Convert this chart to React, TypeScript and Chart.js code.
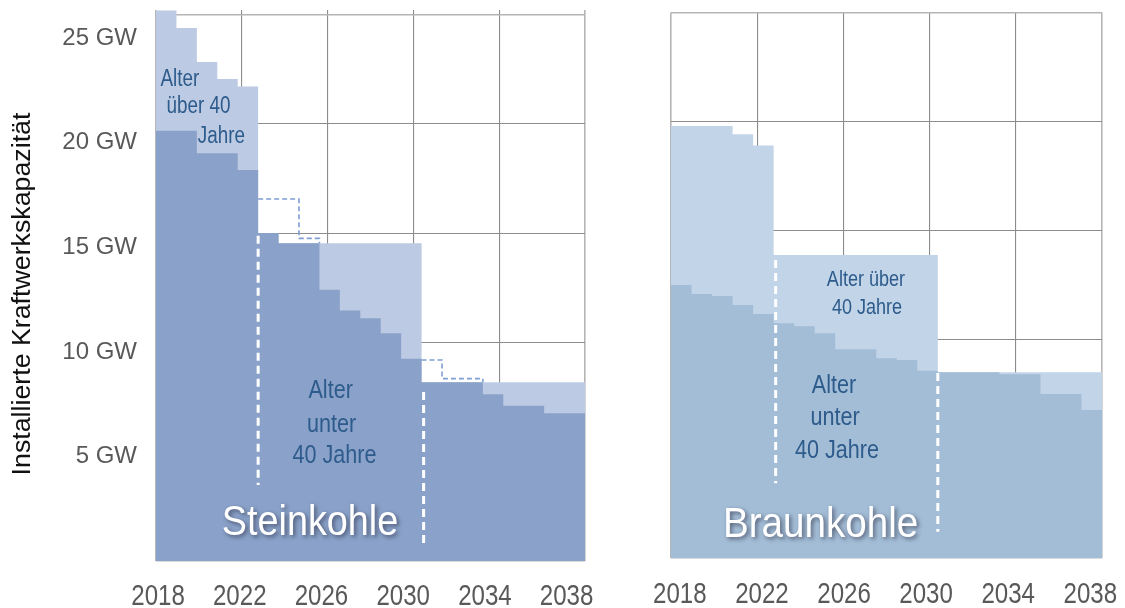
import React, { useEffect, useRef } from 'react';
import { Chart, registerables } from 'chart.js';

Chart.register(...registerables);

// ---------------- data ----------------
const years = [2018, 2019, 2020, 2021, 2022, 2023, 2024, 2025, 2026, 2027, 2028, 2029, 2030, 2031, 2032, 2033, 2034, 2035, 2036, 2037, 2038];
const xTickYears = [2018, 2022, 2026, 2030, 2034, 2038];
const xTickLabels = ['2018', '2022', '2026', '2030', '2034', '2038'];
const yTickValues = [5, 10, 15, 20, 25];
const yTickLabels = ['5 GW', '10 GW', '15 GW', '20 GW', '25 GW'];
const yTitle = 'Installierte Kraftwerkskapazität';

// Steinkohle (GW)
const steinGesamt = [26.33, 25.49, 23.86, 23.05, 22.69, 15.68, 15.2, 15.2, 15.2, 15.2, 15.2, 15.2, 15.2, 8.55, 8.55, 8.55, 8.55, 8.55, 8.55, 8.55, 8.55];
const steinUnter40 = [20.58, 20.58, 19.5, 19.5, 18.7, 15.68, 15.2, 15.2, 12.97, 11.98, 11.61, 10.89, 9.67, 8.55, 8.55, 8.55, 7.98, 7.43, 7.43, 7.07, 7.07];
const steinVorher = [null, null, null, null, null, 17.31, 17.31, 15.43, 15.2, null, null, null, null, 9.61, 8.72, 8.72, 8.55, null, null, null, null];
// phase boundaries [year, from GW, to GW]
const steinGrenzen = [[2023, 15.55, 3.64], [2031.1, 8.08, 0.77]];

// Braunkohle (GW)
const braunGesamt = [20.7, 20.7, 20.7, 20.3, 19.76, 14.52, 14.52, 14.52, 14.52, 14.52, 14.52, 14.52, 14.52, 8.9, 8.9, 8.9, 8.9, 8.9, 8.9, 8.9, 8.9];
const braunUnter40 = [13.08, 12.65, 12.55, 12.12, 11.69, 11.25, 11.1, 10.77, 10.0, 10.0, 9.57, 9.49, 8.97, 8.9, 8.9, 8.9, 8.8, 8.8, 7.86, 7.86, 7.09];
const braunGrenzen = [[2023.1, 14.28, 3.58], [2031.0, 8.86, 1.26]];

// ---------------- helpers ----------------
function stepPoints(values: (number | null)[]) {
  const pts: { x: number; y: number | null }[] = values.map((v, i) => ({ x: years[i], y: v }));
  pts.push({ x: years[years.length - 1] + 1, y: values[values.length - 1] });
  return pts;
}

const TEXT_BLUE = '#2d5b8b';
const FONT = "'Liberation Sans', Arial, sans-serif";

type TextItem = { t: string; x: number; y: number; size: number; sx: number; color: string; shadow?: boolean };

type Panel = {
  total: (number | null)[];
  under: (number | null)[];
  prior?: (number | null)[];
  bounds: number[][];
  dark: string;
  light: string;
  texts: TextItem[];
  showY: boolean;
  padding: { left: number; right: number; top: number; bottom: number };
  xAxisHeight: number;
  xLabelBaseline: number;
  yMax: number;
  gridMax: number;
  labelOffset: number;
  title: boolean;
};

const gridColor = (ctx: any, n: number) => (ctx.index === 0 || ctx.index === n - 1 ? '#b5b5b5' : '#8c8c8c');
const gridWidth = (ctx: any, n: number) => (ctx.index === 0 || ctx.index === n - 1 ? 1.6 : 1.1);

function buildConfig(p: Panel): any {
  const datasets: any[] = [];
  if (p.prior) {
    datasets.push({
      data: stepPoints(p.prior),
      stepped: 'before',
      borderColor: '#7f9ed1',
      borderWidth: 1.6,
      borderDash: [5, 3],
      fill: false,
      pointRadius: 0,
      spanGaps: false,
      order: 2,
    });
  }
  p.bounds.forEach(([x, y0, y1]) => {
    datasets.push({
      data: [{ x, y: y0 }, { x, y: y1 }],
      borderColor: '#ffffff',
      borderWidth: 3,
      borderDash: [8, 5],
      fill: false,
      pointRadius: 0,
      order: 1,
    });
  });
  datasets.push({
    data: stepPoints(p.under),
    stepped: 'before',
    borderWidth: 0,
    borderColor: p.dark,
    backgroundColor: p.dark,
    fill: 'origin',
    pointRadius: 0,
    order: 3,
  });
  datasets.push({
    data: stepPoints(p.total),
    stepped: 'before',
    borderWidth: 0,
    borderColor: p.light,
    backgroundColor: p.light,
    fill: 'origin',
    pointRadius: 0,
    order: 4,
  });

  const textPlugin = {
    id: 'panelText',
    afterDatasetsDraw(chart: any) {
      const { ctx, scales } = chart;
      for (const a of p.texts) {
        const px = scales.x.getPixelForValue(a.x);
        const py = scales.y.getPixelForValue(a.y);
        ctx.save();
        ctx.font = `${a.size}px ${FONT}`;
        ctx.fillStyle = a.color;
        if (a.shadow) {
          ctx.shadowColor = 'rgba(30,30,50,0.6)';
          ctx.shadowBlur = 4;
          ctx.shadowOffsetX = 2;
          ctx.shadowOffsetY = 2;
        }
        ctx.translate(px, py);
        ctx.scale(a.sx, 1);
        ctx.textAlign = 'center';
        ctx.textBaseline = 'alphabetic';
        ctx.fillText(a.t, 0, 0);
        ctx.restore();
      }
      // x tick labels (condensed type, as in the original)
      const xs = scales.x;
      xs.ticks.forEach((tk: any, i: number) => {
        const px = xs.getPixelForValue(tk.value);
        ctx.save();
        ctx.font = `29px ${FONT}`;
        ctx.fillStyle = '#595959';
        ctx.translate(px, p.xLabelBaseline);
        ctx.scale(0.83, 1);
        ctx.textAlign = 'center';
        ctx.textBaseline = 'alphabetic';
        ctx.fillText(xTickLabels[i], 0, 0);
        ctx.restore();
      });
      if (p.title) {
        ctx.save();
        ctx.font = `25px ${FONT}`;
        ctx.fillStyle = '#111111';
        ctx.translate(30, 294);
        ctx.rotate(-Math.PI / 2);
        ctx.scale(1.07, 1);
        ctx.textAlign = 'center';
        ctx.textBaseline = 'alphabetic';
        ctx.fillText(yTitle, 0, 0);
        ctx.restore();
      }
    },
  };

  return {
    type: 'line',
    data: { datasets },
    plugins: [textPlugin],
    options: {
      animation: false,
      responsive: false,
      devicePixelRatio: 1,
      layout: { padding: p.padding },
      elements: { line: { tension: 0 }, point: { radius: 0 } },
      plugins: { legend: { display: false }, tooltip: { enabled: false } },
      scales: {
        x: {
          type: 'linear',
          position: 'bottom',
          min: years[0],
          max: years[years.length - 1] + 1,
          grid: { display: false, drawTicks: false },
          border: { display: false },
          afterBuildTicks: (s: any) => {
            s.ticks = xTickYears.map((v) => ({ value: v + p.labelOffset }));
          },
          afterFit: (s: any) => {
            s.height = p.xAxisHeight;
            s.paddingLeft = 0;
            s.paddingRight = 0;
          },
          ticks: { display: false, autoSkip: false, maxRotation: 0 },
        },
        xg: {
          type: 'linear',
          position: 'bottom',
          min: 0,
          max: 5,
          afterBuildTicks: (s: any) => {
            s.ticks = [0, 1, 2, 3, 4, 5].map((v) => ({ value: v }));
          },
          afterFit: (s: any) => {
            s.height = 0;
            s.paddingLeft = 0;
            s.paddingRight = 0;
          },
          ticks: { display: false },
          grid: {
            drawTicks: false,
            color: (c: any) => gridColor(c, 6),
            lineWidth: (c: any) => gridWidth(c, 6),
          },
          border: { display: false },
        },
        y: {
          type: 'linear',
          position: 'left',
          display: p.showY,
          min: 0,
          max: p.yMax,
          afterBuildTicks: (s: any) => {
            s.ticks = yTickValues.map((v) => ({ value: v }));
          },
          afterFit: (s: any) => {
            s.width = p.showY ? 156 : 0;
            s.paddingTop = 0;
            s.paddingBottom = 0;
          },
          grid: { display: false, drawTicks: false },
          border: { display: false },
          ticks: {
            padding: 19,
            color: '#595959',
            font: { family: FONT, size: 24 },
            callback: (_v: any, i: number) => yTickLabels[i],
          },
        },
        yg: {
          type: 'linear',
          position: 'right',
          min: 0,
          max: p.gridMax,
          afterBuildTicks: (s: any) => {
            s.ticks = [0, 5, 10, 15, 20, 25].map((v) => ({ value: v }));
          },
          afterFit: (s: any) => {
            s.width = 0;
            s.paddingTop = 0;
            s.paddingBottom = 0;
          },
          ticks: { display: false },
          grid: {
            drawTicks: false,
            color: (c: any) => gridColor(c, 6),
            lineWidth: (c: any) => gridWidth(c, 6),
          },
          border: { display: false },
        },
      },
    },
  };
}

const leftPanel: Panel = {
  total: steinGesamt,
  under: steinUnter40,
  prior: steinVorher,
  bounds: steinGrenzen,
  dark: '#8aa2c9',
  light: '#bccae3',
  showY: true,
  padding: { left: 0, right: 15, top: 10, bottom: 0 },
  xAxisHeight: 47,
  xLabelBaseline: 605,
  yMax: 26.35,
  gridMax: 25.21,
  labelOffset: 0.1,
  title: true,
  texts: [
    { t: 'Alter', x: 2019.17, y: 22.72, size: 23, sx: 0.82, color: TEXT_BLUE },
    { t: 'über 40', x: 2020.08, y: 21.41, size: 23, sx: 0.82, color: TEXT_BLUE },
    { t: 'Jahre', x: 2021.2, y: 20.0, size: 23, sx: 0.82, color: TEXT_BLUE },
    { t: 'Alter', x: 2026.55, y: 7.78, size: 26, sx: 0.83, color: TEXT_BLUE },
    { t: 'unter', x: 2026.6, y: 6.18, size: 26, sx: 0.83, color: TEXT_BLUE },
    { t: '40 Jahre', x: 2026.74, y: 4.67, size: 26, sx: 0.83, color: TEXT_BLUE },
    { t: 'Steinkohle', x: 2025.54, y: 1.24, size: 42, sx: 0.9, color: '#ffffff', shadow: true },
  ],
};

const rightPanel: Panel = {
  total: braunGesamt,
  under: braunUnter40,
  bounds: braunGrenzen,
  dark: '#a3bdd6',
  light: '#c2d4e7',
  showY: false,
  padding: { left: 71, right: 23, top: 12.4, bottom: 0 },
  xAxisHeight: 50,
  xLabelBaseline: 603,
  yMax: 26.14,
  gridMax: 25,
  labelOffset: 0.43,
  title: false,
  texts: [
    { t: 'Alter über', x: 2027.5, y: 13.01, size: 22, sx: 0.82, color: TEXT_BLUE },
    { t: '40 Jahre', x: 2027.55, y: 11.69, size: 22, sx: 0.82, color: TEXT_BLUE },
    { t: 'Alter', x: 2025.94, y: 7.91, size: 26, sx: 0.83, color: TEXT_BLUE },
    { t: 'unter', x: 2025.99, y: 6.37, size: 26, sx: 0.83, color: TEXT_BLUE },
    { t: '40 Jahre', x: 2026.09, y: 4.79, size: 26, sx: 0.83, color: TEXT_BLUE },
    { t: 'Braunkohle', x: 2025.29, y: 1.02, size: 42, sx: 0.92, color: '#ffffff', shadow: true },
  ],
};

function PanelChart({ panel, left, width }: { panel: Panel; left: number; width: number }) {
  const ref = useRef<HTMLCanvasElement | null>(null);
  useEffect(() => {
    if (!ref.current) return;
    const chart = new Chart(ref.current, buildConfig(panel));
    return () => chart.destroy();
  }, [panel]);
  return (
    <canvas
      ref={ref}
      width={width}
      height={608}
      style={{ position: 'absolute', left, top: 0, width, height: 608 }}
    />
  );
}

export default function App() {
  return (
    <div style={{ position: 'absolute', left: 0, top: 0, width: 1125, height: 608, background: '#ffffff', overflow: 'hidden' }}>
      <PanelChart panel={leftPanel} left={0} width={600} />
      <PanelChart panel={rightPanel} left={600} width={525} />
    </div>
  );
}
